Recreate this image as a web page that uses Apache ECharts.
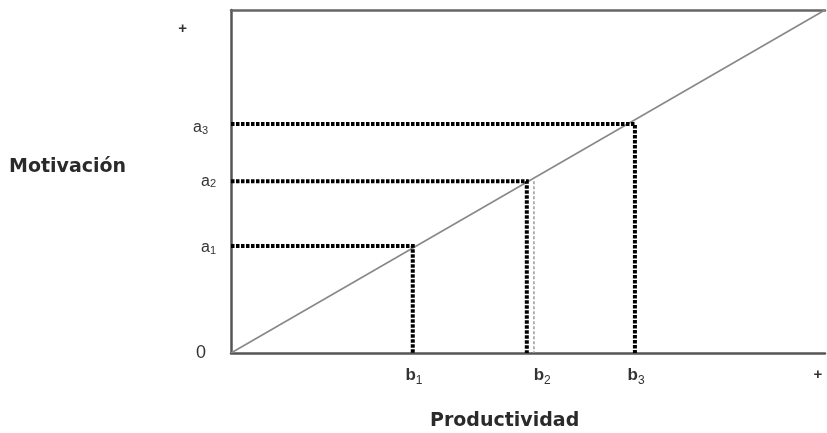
<!DOCTYPE html>
<html>
<head>
<meta charset="utf-8">
<script src="https://cdn.jsdelivr.net/npm/echarts@6/dist/echarts.min.js"></script>
<style>html,body{margin:0;padding:0;background:#fff;}#c{width:827px;height:433px;}</style>
</head>
<body>
<div id="c"></div>
<script>
// Data (axis units 0..100)
const aLevels = [31.2, 50.1, 66.8];      // a1, a2, a3 (Motivación)
const bLevels = [30.6, 49.8, 68.0];      // b1, b2, b3 (Productividad)
const diagonal = [[0, 0], [100, 100]];
const b2Shadow = 51.0;
const xTickPos = [30.8, 52.4, 68.2, 98.8];
const xTickLabels = ['b|1', 'b|2', 'b|3', '+'];
const yTickPos = [0, 30.6, 49.9, 65.6, 94.5];
const yTickLabels = ['0', 'a|1', 'a|2', 'a|3', '+'];
const yPad = [10, 0, 0, 8, 29];

const chart = echarts.init(document.getElementById('c'));
const font = 'Liberation Sans, Arial, sans-serif';

function fmtX(v) {
  let i = xTickPos.findIndex(p => Math.abs(p - v) < 1e-6);
  if (i < 0) return '';
  const l = xTickLabels[i];
  if (l === '+') return '{p|+}';
  const [m, s] = l.split('|');
  return '{m|' + m + '}{s|' + s + '}';
}
function fmtY(v) {
  let i = yTickPos.findIndex(p => Math.abs(p - v) < 1e-6);
  if (i < 0) return '';
  const l = yTickLabels[i];
  if (l === '+') return '{p' + i + '|+}';
  if (l.indexOf('|') < 0) return '{z' + i + '|' + l + '}';
  const [m, s] = l.split('|');
  return '{m|' + m + '}{s' + i + '|' + s + '}';
}
const yRich = {
  m: {fontSize: 16, color: '#333', fontFamily: font, verticalAlign: 'bottom'},
};
yTickPos.forEach((p, i) => {
  yRich['s' + i] = {fontSize: 11, color: '#333', fontFamily: font, padding: [0, yPad[i], 0, 0], verticalAlign: 'bottom'};
  yRich['z' + i] = {fontSize: 18, color: '#333', fontFamily: font, padding: [0, yPad[i], 0, 0]};
  yRich['p' + i] = {fontSize: 15, fontWeight: 'bold', color: '#333', fontFamily: font, padding: [0, yPad[i], 0, 0]};
});

const guideSeries = aLevels.map((a, i) => ({
  type: 'line',
  xAxisIndex: 0, yAxisIndex: 0,
  data: [[0, a], [bLevels[i], a], [bLevels[i], 0]],
  symbol: 'none',
  silent: true,
  lineStyle: {color: '#000', width: 4, type: [3.5, 1.5], cap: 'butt', join: 'miter'},
  z: 3
}));

chart.setOption({
  animation: false,
  backgroundColor: '#fff',
  grid: {left: 231, right: 2, top: 10, bottom: 80},
  xAxis: [{
    type: 'value', min: 0, max: 100, position: 'bottom',
    axisLine: {show: true, onZero: false, lineStyle: {color: '#555', width: 2.5}},
    axisTick: {show: false},
    splitLine: {show: false},
    axisLabel: {
      customValues: xTickPos, margin: 14, formatter: fmtX,
      rich: {
        m: {fontSize: 17, fontWeight: 'bold', color: '#333', fontFamily: font, verticalAlign: 'bottom'},
        s: {fontSize: 12, color: '#333', fontFamily: font, verticalAlign: 'bottom', padding: [0, 0, -3, 0]},
        p: {fontSize: 15, fontWeight: 'bold', color: '#333', fontFamily: font}
      }
    }
  }, {
    type: 'value', min: 0, max: 100, position: 'top',
    axisLine: {show: true, onZero: false, lineStyle: {color: '#666', width: 2.5}},
    axisTick: {show: false}, axisLabel: {show: false}, splitLine: {show: false}
  }],
  yAxis: [{
    type: 'value', min: 0, max: 100,
    axisLine: {show: true, onZero: false, lineStyle: {color: '#555', width: 2.5}},
    axisTick: {show: false},
    splitLine: {show: false},
    axisLabel: {customValues: yTickPos, margin: 15, formatter: fmtY, rich: yRich}
  }],
  graphic: [
    {type: 'text', left: 9, top: 158, style: {text: 'Motivación', font: 'bold 19px "DejaVu Sans", sans-serif', fill: '#2a2a2a'}},
    {type: 'text', left: 430, top: 412, style: {text: 'Productividad', font: 'bold 19px "DejaVu Sans", sans-serif', fill: '#2a2a2a'}}
  ],
  series: [{
    type: 'line', data: diagonal, symbol: 'none', silent: true,
    lineStyle: {color: '#888', width: 1.6}, z: 2
  }, {
    type: 'line', data: [[b2Shadow, aLevels[1]], [b2Shadow, 0]], symbol: 'none', silent: true,
    lineStyle: {color: '#999', width: 1.5, type: [3, 2]}, z: 2
  }].concat(guideSeries)
});
</script>
</body>
</html>
